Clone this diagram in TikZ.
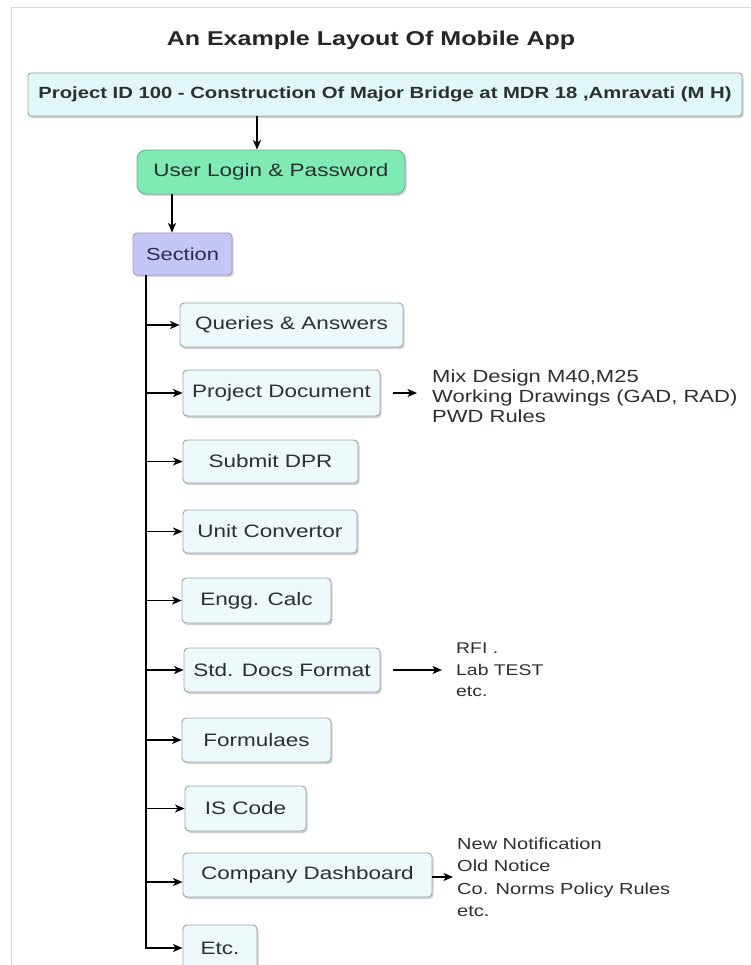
\documentclass[tikz,border=0pt]{standalone}
\usepackage{fontspec}
\setmainfont{Liberation Sans}[FakeStretch=1.25]
\usetikzlibrary{arrows.meta,shadows}
\definecolor{framec}{HTML}{D6DBDE}
\definecolor{projfill}{HTML}{E2F8F8}
\definecolor{projline}{HTML}{8FA3A6}
\definecolor{loginfill}{HTML}{80EAB4}
\definecolor{loginline}{HTML}{6AB48E}
\definecolor{secfill}{HTML}{C6C6F6}
\definecolor{secline}{HTML}{9C9CC4}
\definecolor{boxfill}{HTML}{EEF9FB}
\definecolor{boxline}{HTML}{98A6A8}
\definecolor{textc}{HTML}{2A2F31}
\definecolor{sectext}{HTML}{2A2A55}
\tikzset{
  shad/.style={drop shadow={shadow xshift=1.5pt, shadow yshift=-2pt, fill=black, opacity=0.18}},
  box/.style={draw=boxline, fill=boxfill, rounded corners=4pt, line width=0.9pt,
    inner sep=0pt, font=\fontsize{18}{20}\selectfont, text=textc, shad},
  arr/.style={-{Stealth[length=9.5pt,width=8pt,inset=2.5pt]}, line width=1.5pt},
  side/.style={inner sep=0pt, align=left, anchor=west, text=textc}
}
\begin{document}
\begin{tikzpicture}[x=1pt,y=-1pt]
\useasboundingbox (0,0) rectangle (750,965);
\draw[framec, line width=1pt] (11,970) -- (11,8) -- (752,8);
\node[font=\bfseries\fontsize{20}{24}\selectfont, text=black!85] (title) at (371,40) {An Example Layout Of Mobile App};
\node[box, draw=projline, fill=projfill, rounded corners=3pt, minimum width=714pt, minimum height=43pt,
  font=\bfseries\fontsize{16.2}{18}\selectfont] (proj) at (385,94.5)
  {Project ID 100 - Construction Of Major Bridge at MDR 18 ,Amravati (M H)};
\node[box, draw=loginline, fill=loginfill, rounded corners=9pt, minimum width=268pt, minimum height=44pt] (login) at (271,172) {User Login \& Password};
\node[box, draw=secline, fill=secfill, rounded corners=4pt, minimum width=99pt, minimum height=42pt,
  font=\fontsize{17.5}{20}\selectfont, text=sectext] (sec) at (182.5,254) {Section};
\node[box, minimum width=223pt, minimum height=44pt] (qa) at (291.5,325) {Queries \& Answers};
\node[box, minimum width=197pt, minimum height=46pt] (pd) at (281.5,393) {Project Document};
\node[box, minimum width=175pt, minimum height=43pt] (sd) at (270.5,461.5) {Submit DPR};
\node[box, minimum width=174pt, minimum height=43pt] (uc) at (270,531.5) {Unit Convertor};
\node[box, minimum width=149pt, minimum height=45pt] (ec) at (256.5,600.5) {Engg. Calc};
\node[box, minimum width=196pt, minimum height=44pt] (sdf) at (282,670) {Std. Docs Format};
\node[box, minimum width=149pt, minimum height=44pt] (fo) at (256.5,740) {Formulaes};
\node[box, minimum width=121pt, minimum height=45pt] (is) at (245.5,808.5) {IS Code};
\node[box, minimum width=249pt, minimum height=44pt] (cd) at (307.5,875) {Company Dashboard};
\node[box, minimum width=74pt, minimum height=46pt] (etc) at (220,948) {Etc.};
\node[side, font=\fontsize{17.6}{20}\selectfont] (pdt) at (432,396)
  {Mix Design M40,M25\\Working Drawings (GAD, RAD)\\PWD Rules};
\node[side, font=\fontsize{15.5}{21.5}\selectfont] (sdft) at (456,670)
  {RFI .\\Lab TEST\\etc.};
\node[side, font=\fontsize{16}{22.5}\selectfont] (cdt) at (457,877.5)
  {New Notification\\Old Notice\\Co. Norms Policy Rules\\etc.};
\coordinate (tk) at (146,275);
\draw[arr] (proj.south -| 257,0) -- (login.north -| 257,0);
\draw[arr] (login.south -| 172,0) -- (sec.north -| 172,0);
\draw[arr] (sec.south -| tk) |- (etc.west);
\foreach \n in {qa,pd,sd,uc,ec,sdf,fo,is}
  \draw[arr] (\n.west -| tk) -- (\n.west);
\draw[arr] ([yshift=-7pt]cd.west -| tk) -- ([yshift=-7pt]cd.west);
\draw[arr, shorten <=13pt, shorten >=15pt] (pd.east) -- (pd.east -| pdt.west);
\draw[arr, shorten <=13pt, shorten >=14pt] (sdf.east) -- (sdf.east -| sdft.west);
\draw[arr, shorten >=4pt] ([yshift=-2pt]cd.east) -- ([yshift=-2pt]cd.east -| cdt.west);
\end{tikzpicture}
\end{document}
